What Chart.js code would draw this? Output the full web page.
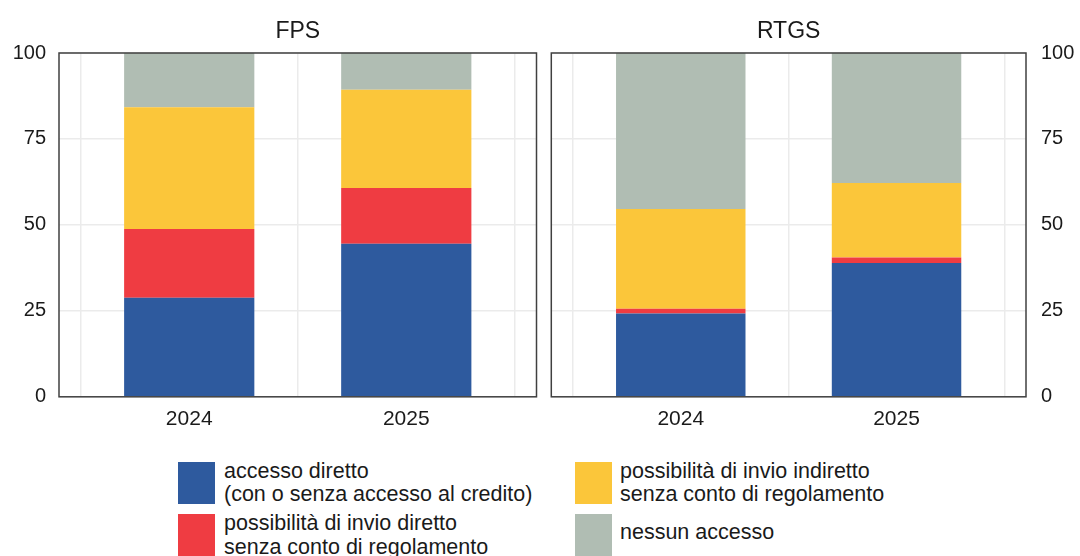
<!DOCTYPE html>
<html>
<head>
<meta charset="utf-8">
<script src="https://cdn.jsdelivr.net/npm/chart.js@4.4.1/dist/chart.umd.min.js"></script>
<style>
  html, body { margin: 0; padding: 0; background: #ffffff; }
  body { width: 1080px; height: 556px; position: relative; overflow: hidden;
         font-family: 'Liberation Sans', Arial, sans-serif; color: #1a1a1a; }
  .panel { position: absolute; top: 0; width: 540px; height: 451px; }
  .legend-box { position: absolute; width: 37px; height: 42px; }
  .legend-text { position: absolute; font-size: 21.5px; line-height: 23.7px; white-space: nowrap; }
</style>
</head>
<body>
<div class="panel" style="left:0"><canvas id="fpsChart"></canvas></div>
<div class="panel" style="left:540px"><canvas id="rtgsChart"></canvas></div>
<div id="legend"></div>
<script>
// Categorie e serie (quote percentuali)
const years = ['2024', '2025'];
const seriesLabels = [
    ['accesso diretto', '(con o senza accesso al credito)'],
    ['possibilità di invio diretto', 'senza conto di regolamento'],
    ['possibilità di invio indiretto', 'senza conto di regolamento'],
    ['nessun accesso']
];
const seriesColors = ['#2e5a9e', '#ef3c42', '#fbc63a', '#b0bdb3'];

const fpsDirect = [28.8, 44.5];
const fpsDirectNoAccount = [20.0, 16.2];
const fpsIndirect = [35.4, 28.6];
const fpsNone = [15.8, 10.7];

const rtgsDirect = [24.2, 38.9];
const rtgsDirectNoAccount = [1.4, 1.6];
const rtgsIndirect = [29.0, 21.7];
const rtgsNone = [45.4, 37.8];

const yTicks = [0, 25, 50, 75, 100];

const textColor = '#1a1a1a';
const gridColor = '#ebebeb';

// titolo centrato sull'area del grafico + cornice
const panelPlugin = {
    id: 'panelDeco',
    afterDatasetsDraw(chart, args, opts) {
        const { ctx, chartArea } = chart;
        ctx.save();
        ctx.strokeStyle = '#404040';
        ctx.lineWidth = 1.5;
        ctx.strokeRect(chartArea.left, chartArea.top, chartArea.right - chartArea.left, chartArea.bottom - chartArea.top);
        ctx.fillStyle = textColor;
        ctx.font = '23px "Liberation Sans", Arial, sans-serif';
        ctx.textAlign = 'center';
        ctx.textBaseline = 'alphabetic';
        ctx.fillText(opts.text, (chartArea.left + chartArea.right) / 2, 37.5);
        ctx.restore();
    }
};

function makeChart(id, title, values, yPosition, padding, yWidth) {
    const datasets = values.map((vals, s) => ({
        label: seriesLabels[s].join(' '),
        data: vals.map((v, i) => ({ x: i + 0.5, y: v })),
        backgroundColor: seriesColors[s],
        borderWidth: 0,
        // i tick ogni 0.5 dimezzano lo spazio minimo -> 1.2 = 60% della categoria
        barPercentage: 1.2,
        categoryPercentage: 1
    }));

    return new Chart(document.getElementById(id), {
        type: 'bar',
        data: { datasets: datasets },
        options: {
            responsive: true,
            maintainAspectRatio: false,
            animation: false,
            layout: { padding: padding },
            plugins: {
                legend: { display: false },
                tooltip: { enabled: false },
                panelDeco: { text: title }
            },
            scales: {
                x: {
                    type: 'linear',
                    stacked: true,
                    offset: false,
                    min: -0.1,
                    max: years.length + 0.1,
                    afterBuildTicks: scale => {
                        const t = [];
                        for (let i = 0; i <= years.length; i++) {
                            t.push({ value: i });
                            if (i < years.length) t.push({ value: i + 0.5 });
                        }
                        scale.ticks = t;
                    },
                    grid: {
                        offset: false,
                        color: c => (c.tick && Number.isInteger(c.tick.value)) ? gridColor : 'rgba(0,0,0,0)',
                        lineWidth: 1.5,
                        drawTicks: false
                    },
                    border: { display: false },
                    ticks: {
                        autoSkip: false,
                        maxRotation: 0,
                        padding: 10,
                        color: textColor,
                        font: { family: 'Liberation Sans', size: 21 },
                        callback: v => Number.isInteger(v) ? '' : years[Math.floor(v)]
                    }
                },
                y: {
                    stacked: true,
                    position: yPosition,
                    min: 0,
                    max: 100,
                    afterBuildTicks: scale => { scale.ticks = yTicks.map(v => ({ value: v })); },
                    afterFit: scale => { scale.width = yWidth; },
                    grid: { color: gridColor, lineWidth: 1.5, drawTicks: false },
                    border: { display: false },
                    ticks: {
                        padding: yPosition === 'left' ? 13 : 15,
                        color: textColor,
                        font: { family: 'Liberation Sans', size: 20 }
                    }
                }
            }
        },
        plugins: [panelPlugin]
    });
}

makeChart('fpsChart', 'FPS', [fpsDirect, fpsDirectNoAccount, fpsIndirect, fpsNone], 'left',
    { left: 0, right: 3.5, top: 53, bottom: 9 }, 59);
makeChart('rtgsChart', 'RTGS', [rtgsDirect, rtgsDirectNoAccount, rtgsIndirect, rtgsNone], 'right',
    { left: 11.3, right: 0, top: 53, bottom: 9 }, 54);

// legenda HTML (due colonne)
const legendPos = [
    { box: [178, 462], text: [224, 459.7] },
    { box: [178, 514], text: [224, 512.4] },
    { box: [575, 462], text: [620, 459.7] },
    { box: [575, 514], text: [620, 521.4] }
];
const legend = document.getElementById('legend');
seriesLabels.forEach((lines, s) => {
    const p = legendPos[s];
    const box = document.createElement('div');
    box.className = 'legend-box';
    box.style.left = p.box[0] + 'px';
    box.style.top = p.box[1] + 'px';
    box.style.background = seriesColors[s];
    legend.appendChild(box);
    const txt = document.createElement('div');
    txt.className = 'legend-text';
    txt.style.left = p.text[0] + 'px';
    txt.style.top = p.text[1] + 'px';
    txt.innerHTML = lines.join('<br>');
    legend.appendChild(txt);
});
</script>
</body>
</html>
